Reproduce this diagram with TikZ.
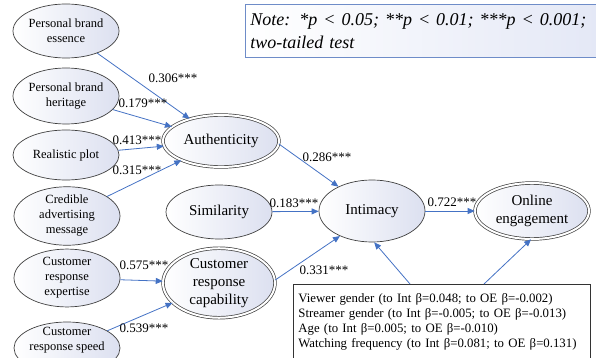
\documentclass[tikz,border=0pt]{standalone}
\usepackage{fontspec}
\setmainfont{Liberation Serif}
\usetikzlibrary{shapes.geometric,arrows.meta,calc}
\definecolor{arr}{RGB}{68,114,196}
\definecolor{ellfill}{RGB}{220,224,240}
\definecolor{notebd}{RGB}{110,140,200}
\definecolor{notefill}{RGB}{228,232,246}
\begin{document}
\begin{tikzpicture}[x=1pt,y=-1pt,
  ell/.style={ellipse,draw=black!75,line width=0.7pt,left color=white,right color=ellfill,
    inner sep=0pt,align=center,font=\fontsize{12.5}{15}\selectfont},
  bigell/.style={ell,font=\fontsize{15}{18}\selectfont},
  dell/.style={bigell,double=white,double distance=2pt},
  conn/.style={draw=arr,line width=0.8pt,-{Triangle[length=7pt,width=6pt]}},
  coef/.style={font=\fontsize{13}{15}\selectfont,inner sep=0pt}]
\useasboundingbox (0,0) rectangle (596,358);

% note box
\node[draw=notebd,line width=0.8pt,left color=white,right color=notefill,anchor=north west,
  minimum width=353pt,minimum height=53pt,text width=343pt,inner xsep=5pt,align=left,
  font=\fontsize{18}{23}\selectfont\itshape] (note) at (245,4)
  {Note: *p < 0.05; **p < 0.01; ***p < 0.001;\\two-tailed test};

% left ellipses
\node[ell,minimum width=106pt,minimum height=54pt] (pbe) at (66,31) {Personal brand\\essence};
\node[ell,minimum width=106pt,minimum height=56pt] (pbh) at (66,96) {Personal brand\\heritage};
\node[ell,minimum width=106pt,minimum height=50pt] (rp) at (66,155) {Realistic plot};
\node[ell,minimum width=106pt,minimum height=52pt] (cam) at (67,216) {Credible\\advertising\\message};
\node[ell,minimum width=106pt,minimum height=52pt] (cre) at (67,278) {Customer\\response\\expertise};
\node[ell,minimum width=106pt,minimum height=52pt] (crs) at (67,348) {};
\node[align=center,inner sep=0pt,font=\fontsize{12.5}{15}\selectfont] (crstext) at (67,340) {Customer\\response speed};

% middle
\node[dell,minimum width=116pt,minimum height=52pt] (auth) at (221,141) {Authenticity};
\node[bigell,minimum width=106pt,minimum height=54pt] (sim) at (219,212) {Similarity};
\node[dell,minimum width=112pt,minimum height=54pt] (crc) at (219,283) {Customer\\response\\capability};
\node[bigell,minimum width=106pt,minimum height=62pt] (int) at (372,211) {Intimacy};
\node[dell,minimum width=114pt,minimum height=56pt] (oe) at (532,211) {Online\\engagement};

% control box
\node[draw=black!80,line width=0.8pt,fill=white,anchor=north west,minimum height=75pt,
  text width=287pt,inner xsep=5pt,align=left,font=\fontsize{12.8}{15}\selectfont] (ctrl) at (293,284)
  {Viewer gender (to Int β=0.048; to OE β=-0.002)\\
   Streamer gender (to Int β=-0.005; to OE β=-0.013)\\
   Age (to Int β=0.005; to OE β=-0.010)\\
   Watching frequency (to Int β=0.081; to OE β=0.131)};

% connectors
\draw[conn] (pbe) -- (auth);
\draw[conn] (pbh) -- (auth);
\draw[conn] (rp) -- (auth);
\draw[conn] (cam) -- (auth);
\draw[conn] (cre) -- (crc);
\draw[conn] (crs) -- (crc);
\draw[conn] (auth.-3) -- (int.144);
\draw[conn] (sim) -- (int);
\draw[conn] (crc.3) -- (int.218);
\draw[conn] (int) -- (oe);
\draw[conn] ([xshift=117pt]ctrl.north west) -- (int.-86);
\draw[conn] ([xshift=191pt]ctrl.north west) -- (oe.-92);

% coefficients
\node[coef] (c1) at (173,78) {0.306***};
\node[coef] (c2) at (143,103) {0.179***};
\node[coef] (c3) at (137,140) {0.413***};
\node[coef] (c4) at (137,170) {0.315***};
\node[coef] (c5) at (327,157) {0.286***};
\node[coef] (c6) at (294,203) {0.183***};
\node[coef] (c7) at (324,270) {0.331***};
\node[coef] (c8) at (144,265) {0.575***};
\node[coef] (c9) at (144,328) {0.539***};
\node[coef] (c10) at (452,202) {0.722***};
\end{tikzpicture}
\end{document}
